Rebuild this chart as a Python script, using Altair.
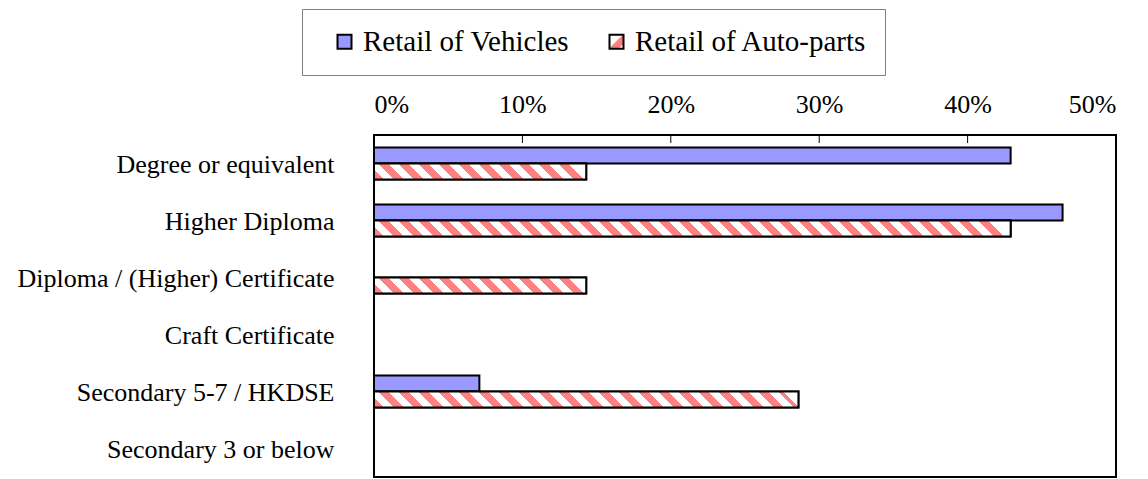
import altair as alt
import pandas as pd

categories = [
    "Degree or equivalent",
    "Higher Diploma",
    "Diploma / (Higher) Certificate",
    "Craft Certificate",
    "Secondary 5-7 / HKDSE",
    "Secondary 3 or below",
]
series_names = ["Retail of Vehicles", "Retail of Auto-parts"]
vehicles = [0.429, 0.464, 0.0, 0.0, 0.071, 0.0]
autoparts = [0.143, 0.429, 0.143, 0.0, 0.286, 0.0]
tick_values = [0, 0.1, 0.2, 0.3, 0.4, 0.5]

rows = []
for c, v, a in zip(categories, vehicles, autoparts):
    rows.append({"category": c, "series": series_names[0], "value": v})
    rows.append({"category": c, "series": series_names[1], "value": a})
df = pd.DataFrame(rows)

W, H = 742, 342
XMAX = 0.5
BAR_H = 16
PERIOD = 20.0
PINK = "#FF8080"
BLUE = "#9999FF"
FONT = "Liberation Serif"


def hatch(w_px, h_px, period=PERIOD):
    wp = w_px + h_px ** 2 / w_px
    total = (w_px + h_px) / wp
    step = period / wp
    stops = []
    t = 0.0
    while t < total + step:
        for off, col in ((t, PINK), (t + step / 2, PINK), (t + step / 2, "#FFFFFF"), (t + step, "#FFFFFF")):
            stops.append({"offset": min(1.0, round(off, 5)), "color": col})
        t += step
    return {
        "gradient": "linear",
        "x1": 0, "y1": 1, "x2": 1, "y2": 1 - h_px / w_px,
        "stops": stops,
    }


y_enc = alt.Y(
    "category:N",
    sort=categories,
    scale=alt.Scale(domain=categories, paddingInner=0.44, paddingOuter=0.22),
    axis=alt.Axis(
        title=None, ticks=False, domain=False, tickSize=0, labelPadding=40,
        labelFont=FONT, labelFontSize=26, labelColor="black", labelLimit=400,
        labelOffset=1,
    ),
)
yoff_enc = alt.YOffset(
    "series:N", sort=series_names,
    scale=alt.Scale(domain=series_names, paddingInner=0, paddingOuter=0),
)
x_enc = alt.X(
    "value:Q",
    scale=alt.Scale(domain=[0, XMAX], nice=False, zero=True),
    axis=alt.Axis(
        orient="top", title=None, format=".0%", values=tick_values, grid=False,
        ticks=False, tickSize=0, domain=False, labelPadding=18,
        labelFont=FONT, labelFontSize=26, labelColor="black",
    ),
)

base = alt.Chart(df).encode(y=y_enc, yOffset=yoff_enc, x=x_enc)

legend_grad_expr = (
    "{gradient: 'linear', x1: 0, y1: 0, x2: 1, y2: 1, stops: ["
    "{offset: 0, color: '#FFFFFF'}, {offset: 0.45, color: '#FFFFFF'}, "
    "{offset: 0.5, color: '" + PINK + "'}, {offset: 0.8, color: '" + PINK + "'}, "
    "{offset: 0.85, color: '#FFFFFF'}, {offset: 1, color: '#FFFFFF'}]}"
)

bars = base.mark_bar(stroke="black", strokeWidth=2).encode(
    color=alt.Color(
        "series:N",
        scale=alt.Scale(domain=series_names, range=[BLUE, alt.ExprRef(legend_grad_expr)]),
        legend=alt.Legend(
            orient="none", legendX=-72, legendY=-126, direction="horizontal",
            title=None, strokeColor="#808080", padding=18,
            labelFont=FONT, labelFontSize=29, labelColor="black", labelLimit=500,
            labelExpr="datum.label === 'Retail of Auto-parts' ? datum.label + '   ' : datum.label + ' '",
            symbolType="square", symbolSize=196, symbolStrokeColor="black",
            symbolStrokeWidth=2, labelOffset=4, columnPadding=22, symbolOffset=10,
        ),
    )
).transform_filter("datum.value > 0")

hatch_layers = []
for c, a in zip(categories, autoparts):
    if a > 0:
        w_px = a / XMAX * W
        hatch_layers.append(
            base.mark_bar(fill=hatch(w_px, BAR_H), stroke="black", strokeWidth=2)
            .transform_filter(
                f"datum.series === '{series_names[1]}' && datum.category === '{c}'"
            )
        )

ticks = alt.Chart(pd.DataFrame({"value": tick_values})).mark_rule(
    color="black", strokeWidth=1
).encode(x=alt.X("value:Q"), y=alt.value(0), y2=alt.value(8))

chart = alt.layer(bars, *hatch_layers, ticks).properties(
    width=W, height=H,
    padding={"left": 366, "top": 127, "right": 24, "bottom": 2},
    autosize=alt.AutoSizeParams(type="none"),
).configure(background="white").configure_view(stroke="black", strokeWidth=2)

chart.save("out.html", embed_options={"renderer": "svg", "actions": False})
